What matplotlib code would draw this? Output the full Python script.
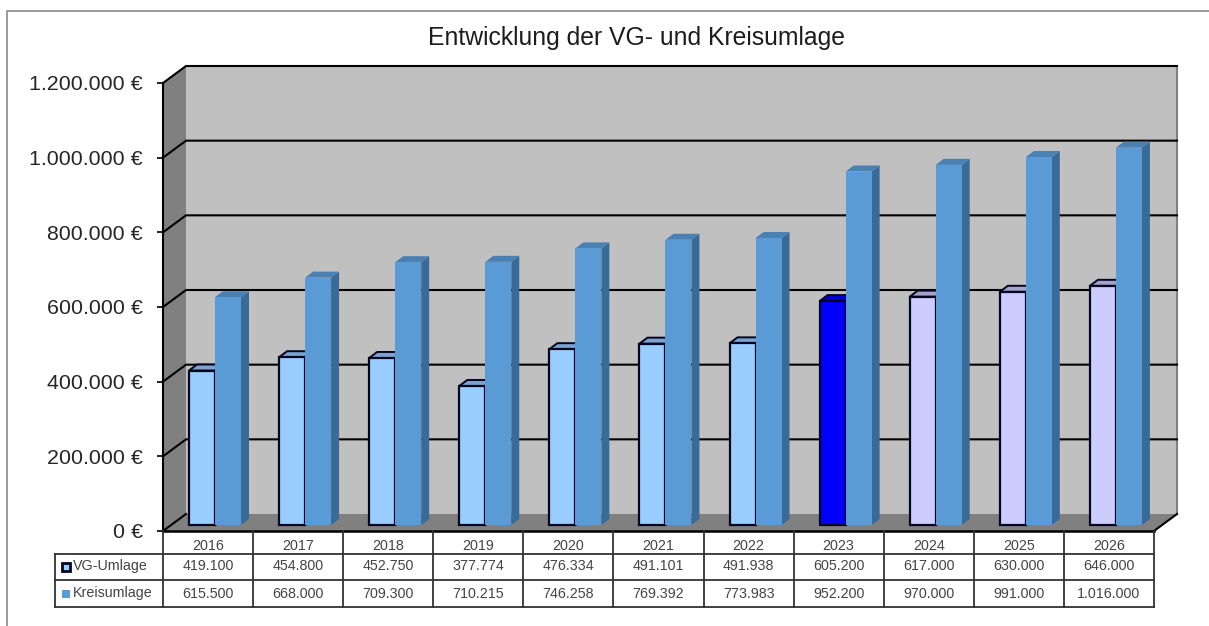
import matplotlib
matplotlib.use("Agg")
import matplotlib.pyplot as plt
from matplotlib.patches import Polygon, Rectangle
from matplotlib.lines import Line2D

plt.rcParams['font.family'] = ['Liberation Sans', 'DejaVu Sans']

TITLE = "Entwicklung der VG- und Kreisumlage"
YEARS = [2016, 2017, 2018, 2019, 2020, 2021, 2022, 2023, 2024, 2025, 2026]
VG_UMLAGE = [419100, 454800, 452750, 377774, 476334, 491101, 491938, 605200, 617000, 630000, 646000]
KREISUMLAGE = [615500, 668000, 709300, 710215, 746258, 769392, 773983, 952200, 970000, 991000, 1016000]
Y_TICKS = [0, 200000, 400000, 600000, 800000, 1000000, 1200000]
Y_LABELS = ["0 €", "200.000 €", "400.000 €", "600.000 €", "800.000 €", "1.000.000 €", "1.200.000 €"]
SERIES_NAMES = ["VG-Umlage", "Kreisumlage"]

W, H = 1209, 626
L, R, B, T = 163, 1154, 531, 83
fig = plt.figure(figsize=(W / 100, H / 100), dpi=100, facecolor="white")
ax = fig.add_axes([L / W, 1 - B / H, (R - L) / W, (B - T) / H])
ax.set_xlim(0, len(YEARS))
ax.set_ylim(0, Y_TICKS[-1])
ax.patch.set_visible(False)

PX = len(YEARS) / (R - L)            # data units per pixel, x
PY = Y_TICKS[-1] / (B - T)           # data units per pixel, y
DX, DY = 23 * PX, 17 * PY            # depth of the chart box
nx = len(YEARS)
ymax = Y_TICKS[-1]

# walls and floor
ax.add_patch(Polygon([(DX, DY), (nx + DX, DY), (nx + DX, ymax + DY), (DX, ymax + DY)],
                     fc="#C0C0C0", ec="none", zorder=1, clip_on=False))
ax.add_patch(Polygon([(0, 0), (DX, DY), (DX, ymax + DY), (0, ymax)],
                     fc="#808080", ec="none", zorder=1, clip_on=False))
ax.add_patch(Polygon([(0, 0), (nx, 0), (nx + DX, DY), (DX, DY)],
                     fc="#808080", ec="none", zorder=1, clip_on=False))
ax.plot([nx + DX, nx + DX], [DY, ymax + DY], color="#808080", lw=1.5, zorder=1.5, clip_on=False)

# gridlines on both walls
for t in Y_TICKS[1:]:
    ax.plot([0, DX, nx + DX], [t, t + DY, t + DY], color="black", lw=1.5, zorder=2, clip_on=False)
ax.plot([0, DX], [0, DY], color="black", lw=1.5, zorder=2, clip_on=False)
ax.plot([nx, nx + DX], [0, DY], color="black", lw=1.5, zorder=2, clip_on=False)
ax.plot([0, 0], [0, ymax], color="black", lw=1.5, zorder=3, clip_on=False)
ax.plot([0, nx], [0, 0], color="black", lw=1.8, zorder=3, clip_on=False)

# bars
BW = 26 * PX
OFF = 26 * PX
BASE = 6 * PY
TOP_OFF = 4 * PY
bx, by = 8 * PX, 6 * PY


def bar(x, v, face, side, top, edge, z):
    y1 = TOP_OFF + v
    lw = 1.4 if edge != "none" else 0
    ax.add_patch(Polygon([(x + BW, BASE), (x + BW + bx, BASE + by), (x + BW + bx, y1 + by), (x + BW, y1)],
                         fc=side, ec=edge, lw=lw, zorder=z, clip_on=False))
    ax.add_patch(Polygon([(x, y1), (x + bx, y1 + by), (x + BW + bx, y1 + by), (x + BW, y1)],
                         fc=top, ec=edge, lw=lw, zorder=z, clip_on=False))
    ax.add_patch(Rectangle((x, BASE), BW, y1 - BASE, fc=face, ec=edge, lw=1.6 if edge != "none" else 0,
                           zorder=z + 0.1, clip_on=False))


for i, (vg, kr) in enumerate(zip(VG_UMLAGE, KREISUMLAGE)):
    if YEARS[i] < 2023:
        f, s, t = "#99CCFF", "#6C90B4", "#7BA3CC"
    elif YEARS[i] == 2023:
        f, s, t = "#0000FF", "#0000B4", "#0000CC"
    else:
        f, s, t = "#CCCCFF", "#9090B4", "#A3A3CC"
    bar(i + OFF, vg, f, s, t, "#050520", 4 + i * 0.01)
    bar(i + OFF + BW, kr, "#5B9BD5", "#396B98", "#4A80B2", "none", 5 + i * 0.01)

# y axis
ax.set_yticks(Y_TICKS, Y_LABELS, fontsize=15.4, color="#262626")
ax.set_xticks([])
ax.tick_params(axis="y", length=4.5, width=1.4, color="#222222", pad=10)
for sp in ax.spines.values():
    sp.set_visible(False)

# data table
rows = [0, 23 * PY, 49 * PY, 76 * PY]
TC = "#333333"
LBLX = -108 * PX
for j in range(nx + 1):
    ax.plot([j, j], [0, -rows[3]], color=TC, lw=1.3, zorder=3, clip_on=False)
for k, r in enumerate(rows[1:]):
    ax.plot([LBLX, nx], [-r, -r], color=TC, lw=1.3, zorder=3, clip_on=False)
ax.plot([LBLX, LBLX], [-rows[1], -rows[3]], color=TC, lw=1.3, zorder=3, clip_on=False)

TS = 10.3
TXT = "#444444"
for i, yr in enumerate(YEARS):
    ax.text(i + 0.5, -(rows[0] + rows[1]) / 2 - 3 * PY, str(yr), ha="center", va="center",
            fontsize=TS, color=TXT, clip_on=False)
    ax.text(i + 0.5, -(rows[1] + rows[2]) / 2 + 1 * PY, f"{VG_UMLAGE[i]:,}".replace(",", "."), ha="center", va="center",
            fontsize=TS, color=TXT, clip_on=False)
    ax.text(i + 0.5, -(rows[2] + rows[3]) / 2, f"{KREISUMLAGE[i]:,}".replace(",", "."), ha="center", va="center",
            fontsize=TS, color=TXT, clip_on=False)

ax.add_patch(Rectangle((LBLX + 7 * PX, -(rows[1] + rows[2]) / 2 - 3.5 * PY), 8 * PX, 8 * PY,
                       fc="#99CCFF", ec="#050520", lw=2, zorder=4, clip_on=False))
ax.add_patch(Rectangle((LBLX + 7 * PX, -(rows[2] + rows[3]) / 2 - 4 * PY), 8 * PX, 8 * PY,
                       fc="#5B9BD5", ec="none", zorder=4, clip_on=False))
ax.text(LBLX + 18 * PX, -(rows[1] + rows[2]) / 2 + 1 * PY, SERIES_NAMES[0], ha="left", va="center",
        fontsize=TS, color=TXT, clip_on=False)
ax.text(LBLX + 18 * PX, -(rows[2] + rows[3]) / 2, SERIES_NAMES[1], ha="left", va="center",
        fontsize=TS, color=TXT, clip_on=False)

# title and outer frame
fig.text(637 / W, 1 - 38 / H, TITLE, ha="center", va="center", fontsize=17.8, color="#1c1c1c")
fig.add_artist(Line2D([7 / W, 7 / W, 1], [0, 1 - 11 / H, 1 - 11 / H], color="#9a9a9a", lw=1.4))

fig.savefig("out.png", dpi=100)
